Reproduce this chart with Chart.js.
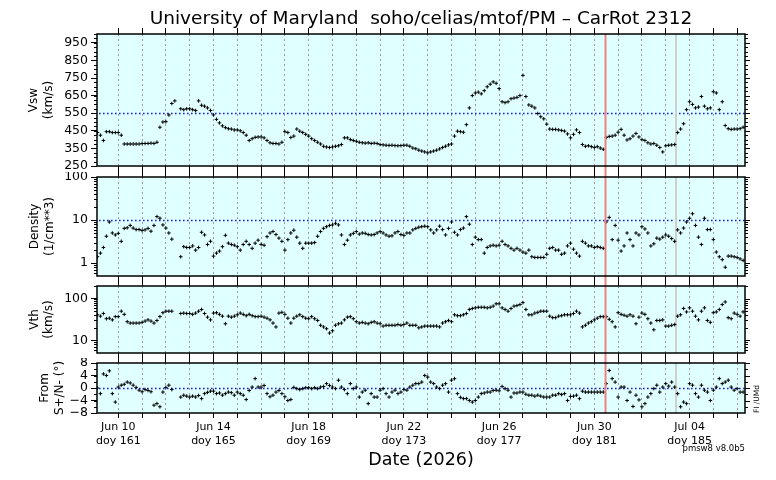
<!DOCTYPE html>
<html><head><meta charset="utf-8">
<script src="https://cdn.jsdelivr.net/npm/chart.js@4.4.1/dist/chart.umd.min.js"></script>
<style>
html,body{margin:0;padding:0;background:#fff;}
#wrap{position:relative;width:776px;height:480px;overflow:hidden;background:#fff;}
canvas{position:absolute;left:0;}
</style></head><body>
<div id="wrap">
<canvas id="c1" width="776" height="172" style="top:0px;width:776px;height:172px"></canvas>
<canvas id="c2" width="776" height="109" style="top:172px;width:776px;height:109px"></canvas>
<canvas id="c3" width="776" height="77" style="top:281px;width:776px;height:77px"></canvas>
<canvas id="c4" width="776" height="122" style="top:358px;width:776px;height:122px"></canvas>
</div>
<script>
// ---- time axis (day of year 2026), samples every 3 hours ----
const startDoy = 160.125;
const stepDays = 0.125;
const xMin = 160.106, xMax = 187.33;
const dayGrid = [161,162,163,164,165,166,167,168,169,170,171,172,173,174,175,176,177,178,179,180,181,182,183,184,185,186,187];
const tickDoys = [161,165,169,173,177,181,185];
const tickDates = ['Jun 10','Jun 14','Jun 18','Jun 22','Jun 26','Jun 30','Jul 04'];
const markerRed = 181.47;
const markerGray = 184.43;

// ---- Vsw (km/s) ----
const vsw = [
 440,425,395,445,445,440,440,
 440,425,375,375,375,375,375,375,
 378,378,378,380,378,385,470,500,
 502,540,605,620,null,575,570,575,
 575,570,565,620,595,590,580,565,
 540,515,495,478,468,462,460,455,
 455,450,440,425,395,405,413,415,
 415,410,395,382,378,378,375,385,
 445,440,412,420,460,448,440,430,
 420,405,395,385,375,362,358,355,
 358,362,365,372,410,410,400,395,
 390,385,382,380,382,378,380,378,
 372,370,368,367,368,366,365,366,
 368,368,362,352,348,340,335,330,
 325,330,335,340,347,355,362,370,
 375,420,448,445,442,485,580,650,
 665,670,660,678,700,715,728,720,
 690,615,610,615,632,636,640,650,
 765,645,597,590,580,548,530,518,
 488,460,458,458,455,452,448,432,
 410,430,455,440,372,362,365,360,
 355,360,352,345,412,418,420,425,
 442,458,425,398,405,420,435,415,
 400,395,382,375,378,368,355,330,
 365,368,370,372,440,460,490,570,
 615,600,580,585,645,590,575,580,
 672,665,570,615,480,462,458,460,
 460,462,470
];

// ---- Density (1/cm**3) ----
const density = [
 1.4,1.7,2.3,4.2,9,5.0,4.5,
 4.9,3.2,6.4,6.6,7.5,6.5,6.0,6.0,
 5.7,5.9,6.4,5.5,7.5,12,11,7.7,
 6.5,5.0,3.6,null,null,1.4,2.4,2.3,
 2.3,2.5,2.0,2.3,5.2,4.5,2.7,3.2,
 1.45,1.7,1.9,2.4,4.4,2.9,2.7,2.6,
 2.4,2.0,2.7,3.2,2.7,2.2,2.9,3.4,
 2.7,2.6,4.1,5.0,5.4,4.6,3.8,3.2,
 2.0,3.5,5.0,5.8,4.0,2.9,2.2,2.9,
 2.9,2.9,3.0,4.2,5.4,6.4,7.0,7.5,
 7.7,8.4,7.7,4.5,2.7,3.4,4.5,4.9,
 5.4,4.7,5.0,4.9,4.6,4.5,4.6,5.0,
 5.4,5.0,4.5,4.2,4.3,5.0,5.4,4.6,
 4.4,5.0,5.0,5.9,6.4,6.8,7.0,7.2,
 7.0,5.9,5.0,5.9,7.2,6.0,4.5,6.4,
 9.0,5.2,4.5,6.0,6.5,12,8,2.7,
 4.0,3.5,3.5,1.7,2.3,2.5,2.6,2.5,
 2.6,3.2,2.7,2.5,2.2,2.0,2.2,2.0,
 1.8,1.7,2.0,1.4,1.35,1.35,1.35,1.35,
 1.6,2.2,2.3,2.0,2.0,1.6,1.7,2.5,
 2.9,2.1,1.7,1.45,3.2,2.9,2.5,2.5,
 2.3,2.4,2.3,2.2,9,11.5,3.5,7.5,
 3.4,1.9,2.5,5.0,3.5,2.5,5.0,4.5,
 7.0,6.2,5.0,2.5,2.8,3.8,3.6,4.0,
 4.5,4.2,3.7,3.2,5.9,5.0,6.5,9.0,
 11,14,7.5,4.0,2.7,11,6.0,6.0,
 3.5,1.8,1.4,1.2,0.8,1.45,1.45,1.4,
 1.35,1.25,1.15
];

// ---- Vth (km/s) ----
const vth = [
 41,38,44,33,34,31,37,
 37,50,42,28,26,26,26,26,
 27,29,31,29,26,30,37,46,
 50,50,50,null,null,44,45,44,
 44,42,45,50,55,44,36,31,
 45,46,42,38,25,38,36,38,
 41,45,42,39,42,39,37,37,
 38,36,34,31,26,21,45,47,
 42,34,26,34,38,41,37,34,
 33,37,33,30,23,21,19,15,
 17,23,25,26,31,36,37,33,
 28,26,27,26,25,27,28,26,
 25,22,23,23,23,23,24,23,
 24,26,23,23,23,20,21,22,
 22,22,22,22,21,26,28,30,
 28,41,39,39,41,44,55,58,
 60,62,62,62,60,62,66,75,
 75,60,55,50,58,66,68,72,
 80,55,41,41,45,47,50,50,
 50,38,35,35,38,39,41,41,
 41,44,50,45,21,23,26,28,
 31,34,37,37,37,32,28,21,
 46,42,40,38,41,38,25,36,
 45,42,33,26,18,30,30,31,
 22,22,23,24,38,41,58,48,
 60,50,38,31,50,60,30,27,
 46,48,55,72,83,35,33,45,
 42,38,48
];

// ---- flow angle from S+/N- (deg) ----
const angle = [
 0.0,-1.8,4.5,4.0,5.5,-1.8,-4.5,
 0.3,0.9,1.2,1.9,1.6,0.9,0.2,-0.7,
 -1.2,-0.5,-0.8,-1.2,-5.5,-5.0,-6.0,-1.3,
 0.2,0.9,-0.5,null,null,-2.9,-2.3,-2.6,
 -2.9,-2.6,-2.9,-2.4,-3.4,-1.8,-1.4,-1.0,
 -1.0,-1.8,-1.6,-2.3,-1.8,-1.3,-1.5,-2.3,
 -1.3,-1.8,-2.3,-3.7,-0.8,0.3,3.0,0.3,
 0.3,0.8,-1.8,-2.8,-2.3,-1.3,-0.8,-1.8,
 -2.8,-4.0,-3.7,0.2,-0.2,-0.5,-0.2,0.1,
 0.1,-0.2,0.1,-0.2,0.3,0.5,1.4,0.8,
 0.3,-0.2,2.5,0.3,-0.5,-1.8,1.4,-0.2,
 0.3,-2.9,-1.3,-0.7,-5.0,-1.8,-2.9,-2.9,
 -0.7,-0.2,-1.8,-2.9,-1.3,-0.7,-1.8,-1.3,
 -0.5,-0.7,0.3,0.9,1.4,1.4,1.9,4.0,
 3.5,1.9,1.4,0.3,-0.2,0.9,1.4,-1.3,
 2.5,3.0,-1.8,-3.0,-3.4,-3.4,-4.0,-4.5,
 -4.0,-2.9,-1.8,-1.6,-1.3,-1.3,-0.8,-0.7,
 -0.9,0.5,-0.2,-0.7,-2.9,-1.6,-1.6,-1.3,
 -1.3,-2.0,-2.3,-2.3,-2.6,-2.3,-2.6,-2.9,
 -2.9,-2.9,-2.3,-2.3,-1.8,-2.1,-1.8,-4.0,
 -2.7,-2.6,-2.3,-3.4,-1.0,-1.3,-1.3,-1.3,
 -1.3,-1.3,-1.3,-1.3,1.4,5.6,3.0,1.9,
 -2.9,0.3,0.3,-4.0,-1.3,-5.9,-2.3,-3.8,
 -6.0,-5.0,-2.9,-1.8,-0.2,0.9,-1.3,0.3,
 1.4,0.6,1.9,0.3,-1.8,-6.0,-4.5,-5.0,
 1.4,0.9,-1.8,-2.9,0.9,-0.7,-1.3,-4.0,
 -0.7,0.3,3.0,1.4,1.9,2.5,0.3,-0.7,
 -0.2,-1.3,-1.3
];

// ---- y tick labels ----
const vswTicks = [250,350,450,550,650,750,850,950];
const vswLabels = ['250','350','450','550','650','750','850','950'];
const densTicks = [1,10,100];
const densLabels = ['1','10','100'];
const vthTicks = [10,100];
const vthLabels = ['10','100'];
const angTicks = [-8,-4,0,4,8];
const angLabels = ['\u22128','\u22124','0','4','8'];

Chart.defaults.font.family = "'DejaVu Sans', 'Liberation Sans', sans-serif";
Chart.defaults.color = '#000';

function pts(values){
  const out = [];
  values.forEach((v,i) => { if (v !== null) out.push({x: startDoy + i*stepDays, y: v}); });
  return out;
}
function linMinor(lo, hi, step){ const a=[]; for(let v=lo; v<=hi+1e-9; v+=step) a.push(v); return a; }
function logMinor(lo, hi){ const a=[]; [0.1,1,10,100].forEach(d=>{ for(let m=1;m<=9;m++){ const v=m*d; if(v>=lo-1e-9 && v<=hi+1e-9) a.push(v);} }); return a; }

function xAxis(pos, height, tickLen, withLabels){
  const ax = {
    type: 'linear', position: pos, min: xMin, max: xMax,
    afterBuildTicks: s => { s.ticks = dayGrid.map(v => ({value: v})); },
    afterFit: s => { s.height = height; s.paddingLeft = 0; s.paddingRight = 0; },
    grid: { display: true, drawOnChartArea: pos === 'bottom', drawTicks: true, tickLength: tickLen,
            color: '#9c9c9c', lineWidth: 1, tickColor: '#000', tickWidth: 1, tickBorderDash: [] },
    border: { display: false, dash: [2,3] },
    ticks: { display: false }
  };
  if (withLabels) {
    ax.ticks = { display: true, autoSkip: false, maxRotation: 0, minRotation: 0, padding: 3,
      font: { size: 11, lineHeight: 1.2 }, color: '#000',
      callback: v => { const k = tickDoys.indexOf(v); return k >= 0 ? [tickDates[k], 'doy ' + tickDoys[k]] : ''; } };
    ax.title = { display: true, text: 'Date (2026)', font: { size: 17.5, lineHeight: 1.2 }, color: '#000', padding: { top: 0, bottom: 9.5 } };
  }
  return ax;
}
function yAxis(type, min, max, ticks, labels, title, titlePad){
  return {
    type: type, position: 'left', min: min, max: max,
    afterBuildTicks: s => { s.ticks = ticks.map(v => ({value: v})); },
    afterFit: s => { s.width = 97; s.paddingTop = 0; s.paddingBottom = 0; },
    grid: { drawOnChartArea: false, drawTicks: true, tickLength: 6, color: '#000', lineWidth: 1 },
    border: { display: false },
    ticks: { display: true, autoSkip: false, padding: 3, font: { size: 12.5 }, color: '#000', callback: (v, i) => labels[i] },
    title: { display: true, text: title, font: { size: 12, lineHeight: 1.2 }, color: '#000', padding: { top: titlePad, bottom: 0 } }
  };
}

function deco(p){
  return {
    id: 'deco',
    beforeDraw(chart){
      const a = chart.chartArea, ctx = chart.ctx;
      ctx.save(); ctx.fillStyle = '#e0ffff';
      ctx.fillRect(a.left, a.top, a.right - a.left, a.bottom - a.top);
      ctx.restore();
    },
    beforeDatasetsDraw(chart){
      const a = chart.chartArea, ctx = chart.ctx, xs = chart.scales.x, ys = chart.scales.y;
      ctx.save();
      if (p.refY !== null) {
        const y = Math.round(ys.getPixelForValue(p.refY)) + 0.5;
        ctx.strokeStyle = '#1b1bd8'; ctx.lineWidth = 1.6; ctx.setLineDash([1.6, 2.4]);
        ctx.beginPath(); ctx.moveTo(a.left + 2, y); ctx.lineTo(a.right, y); ctx.stroke();
        ctx.setLineDash([]);
      }
      const gx = xs.getPixelForValue(markerGray);
      ctx.strokeStyle = '#cfcfcf'; ctx.lineWidth = 2;
      ctx.beginPath(); ctx.moveTo(gx, a.top); ctx.lineTo(gx, a.bottom); ctx.stroke();
      ctx.restore();
    },
    afterDatasetsDraw(chart){
      const a = chart.chartArea, ctx = chart.ctx, xs = chart.scales.x, ys = chart.scales.y;
      ctx.save();
      const rx = xs.getPixelForValue(markerRed);
      ctx.strokeStyle = '#f08080'; ctx.lineWidth = 2;
      ctx.beginPath(); ctx.moveTo(rx, p.redFromArea ? a.top : 0); ctx.lineTo(rx, p.redToArea ? a.bottom : chart.height); ctx.stroke();
      ctx.strokeStyle = '#000'; ctx.lineWidth = 1;
      p.minor.forEach(v => {
        const y = Math.round(ys.getPixelForValue(v)) + 0.5;
        if (y < a.top || y > a.bottom) return;
        ctx.beginPath(); ctx.moveTo(a.left - 3, y); ctx.lineTo(a.left, y); ctx.stroke();
        const len = p.major.indexOf(v) >= 0 ? 5 : 3;
        ctx.beginPath(); ctx.moveTo(a.right, y); ctx.lineTo(a.right + len, y); ctx.stroke();
      });
      ctx.lineWidth = 1.5;
      ctx.strokeRect(a.left, a.top, a.right - a.left, a.bottom - a.top);
      if (p.extra) p.extra(chart);
      ctx.restore();
    }
  };
}

function makeChart(id, values, yCfg, p, opts){
  const scales = { x: xAxis('bottom', opts.bottomH, opts.bottomTick, opts.labels), xTop: xAxis('top', opts.topH, opts.topH, false), y: yCfg };
  const plugins = { legend: { display: false }, tooltip: { enabled: false } };
  if (opts.title) plugins.title = { display: true, fullSize: false, text: opts.title, color: '#000',
      font: { size: 18.5, lineHeight: 1, weight: 'normal' }, padding: { top: 9, bottom: 0 } };
  return new Chart(document.getElementById(id), {
    type: 'scatter',
    data: { datasets: [{ data: pts(values), showLine: false, pointStyle: 'cross', pointRadius: 1.8,
      pointHoverRadius: 1.8, pointBorderColor: '#000', pointBackgroundColor: '#000', pointBorderWidth: 1 }] },
    options: { responsive: false, animation: false, events: [],
      layout: { padding: { top: opts.padTop, left: 0, right: 31, bottom: 0 } },
      scales: scales, plugins: plugins },
    plugins: [deco(p)]
  });
}

makeChart('c1', vsw,
  yAxis('linear', 250, 1000, vswTicks, vswLabels, ['Vsw', '(km/s)'], 27),
  { refY: 550, redFromArea: true, redToArea: false, minor: linMinor(250, 1000, 25), major: vswTicks },
  { bottomH: 6, bottomTick: 6, topH: 6, padTop: 0.5, labels: false,
    title: 'University of Maryland  soho/celias/mtof/PM \u2013 CarRot 2312' });

makeChart('c2', density,
  yAxis('logarithmic', 0.5, 100, densTicks, densLabels, ['Density', '(1/cm**3)'], 28),
  { refY: 10, redFromArea: false, redToArea: false, minor: logMinor(0.5, 100), major: densTicks },
  { bottomH: 5, bottomTick: 5, topH: 5, padTop: 0, labels: false });

makeChart('c3', vth,
  yAxis('logarithmic', 5, 200, vthTicks, vthLabels, ['Vth', '(km/s)'], 27.5),
  { refY: null, redFromArea: false, redToArea: false, minor: logMinor(5, 200), major: vthTicks },
  { bottomH: 5, bottomTick: 5, topH: 5, padTop: 0, labels: false });

makeChart('c4', angle,
  yAxis('linear', -8, 8, angTicks, angLabels, ['From', 'S+/N- (\u00b0)'], 38),
  { refY: 0, redFromArea: false, redToArea: true, minor: linMinor(-8, 8, 2), major: angTicks,
    extra: chart => {
      const ctx = chart.ctx;
      ctx.fillStyle = '#000';
      ctx.font = "8.5px 'DejaVu Sans'";
      ctx.textAlign = 'right'; ctx.textBaseline = 'middle';
      ctx.fillText('pmsw8 v8.0b5', 745, 91);
      ctx.save();
      ctx.translate(757, 41); ctx.rotate(-Math.PI / 2);
      ctx.font = "7.5px 'DejaVu Sans'"; ctx.textAlign = 'center';
      ctx.fillText('FI /UMd', 0, 0);
      ctx.restore();
    } },
  { bottomH: 67, bottomTick: 5, topH: 5, padTop: 0, labels: true });
</script>
</body></html>
